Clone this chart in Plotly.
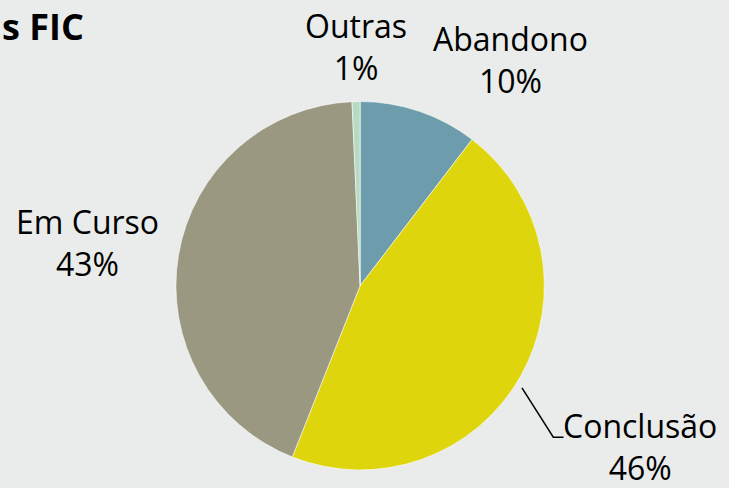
import plotly.graph_objects as go

# slice data
labels = ["Abandono", "Conclusão", "Em Curso", "Outras"]
values = [10.4, 45.6, 43.3, 0.7]
colors = ["#6d9cad", "#ded50c", "#9a9880", "#b5dcc3"]

# where each outside label sits (paper coords)
label_x = [0.700, 0.878, 0.120, 0.489]
label_y = [0.878, 0.086, 0.503, 0.905]

total = sum(values)
pcts = [round(v / total * 100) for v in values]

fig = go.Figure(go.Pie(
    labels=labels,
    values=values,
    sort=False,
    direction="clockwise",
    rotation=0,
    marker=dict(colors=colors, line=dict(color="rgba(255,255,255,0.55)", width=1)),
    textinfo="none",
    hoverinfo="label+percent",
    domain=dict(x=[0.237, 0.751], y=[0.037, 0.792]),
    showlegend=False,
))

font = dict(family="Open Sans, Arial, sans-serif", size=32, color="#000000")
for lab, p, x, y in zip(labels, pcts, label_x, label_y):
    fig.add_annotation(x=x, y=y, xref="paper", yref="paper",
                       text=f"{lab}<br>{p}%", showarrow=False,
                       xanchor="center", yanchor="middle", font=font)

# leader line for Conclusão
fig.add_shape(type="path", xref="paper", yref="paper",
              path="M 0.716 0.205 L 0.759 0.104 L 0.773 0.104",
              line=dict(color="#000000", width=1.5))

fig.add_annotation(x=0.0, y=1.0, xref="paper", yref="paper",
                   text="<b>s FIC</b>", showarrow=False,
                   xanchor="left", yanchor="top",
                   font=dict(family="Open Sans, Arial, sans-serif", size=36, color="#000000"))

fig.update_layout(
    width=729, height=488,
    margin=dict(l=0, r=0, t=0, b=0),
    paper_bgcolor="#e9ecea",
    plot_bgcolor="#e9ecea",
)

fig.write_html("out.html", config={"displayModeBar": False},
               post_script="document.body.style.margin='0';")
